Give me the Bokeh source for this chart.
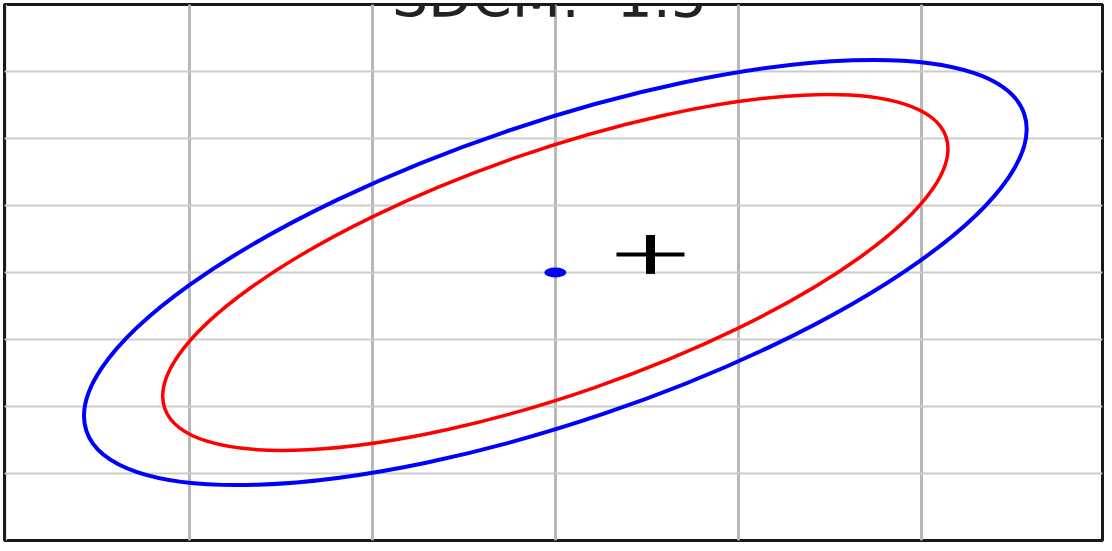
from bokeh.plotting import figure
from bokeh.models import Grid, FixedTicker, Label, Range1d
from bokeh.embed import file_html
from bokeh.resources import INLINE
from math import radians

# ---- data (abstract chromaticity units: 1 unit = one grid step) ----
title_text = "SDCM: \u00a01.5"
x_grid_ticks = [-2, -1, 0, 1, 2]
y_grid_ticks = [-3, -2, -1, 0, 1, 2, 3]

target_x = [0.0]
target_y = [0.0]
target_w = [0.12]
target_h = [0.15]

ellipse_names = ["outer", "inner"]
ellipse_cx = [0.0, 0.0]
ellipse_cy = [0.0, 0.0]
ellipse_w = [5.41, 4.52]
ellipse_h = [4.46, 3.63]
ellipse_angle_deg = [18.7, 19.2]
ellipse_colors = ["#0000ff", "#ff0000"]

measured_x = [0.52]
measured_y = [0.27]

W, H = 1104, 543
p = figure(width=W, height=H, output_backend="svg", toolbar_location=None,
           x_axis_location=None, y_axis_location=None,
           x_range=Range1d(-3.01, 2.99), y_range=Range1d(-4, 4),
           min_border_left=4, min_border_right=2, min_border_top=4, min_border_bottom=3)
p.background_fill_color = "white"
p.border_fill_color = "white"
p.outline_line_color = "#1a1a1a"
p.outline_line_width = 3

gx = Grid(dimension=0, ticker=FixedTicker(ticks=x_grid_ticks),
          grid_line_color="#b8b8b8", grid_line_width=3)
gy = Grid(dimension=1, ticker=FixedTicker(ticks=y_grid_ticks),
          grid_line_color="#cccccc", grid_line_width=2)
p.add_layout(gx)
p.add_layout(gy)

angles = [radians(a) for a in ellipse_angle_deg]
widths = [4, 3.5]
for i in range(len(ellipse_names)):
    p.ellipse(x=[ellipse_cx[i]], y=[ellipse_cy[i]], width=[ellipse_w[i]], height=[ellipse_h[i]],
              angle=[angles[i]], fill_color=None, line_color=ellipse_colors[i],
              line_width=widths[i])

p.ellipse(x=target_x, y=target_y, width=target_w, height=target_h,
          fill_color="#0000ff", line_color=None)

p.rect(x=measured_x, y=measured_y, width=68, height=4, width_units="screen",
       height_units="screen", fill_color="black", line_color=None)
p.rect(x=measured_x, y=measured_y, width=9, height=39, width_units="screen",
       height_units="screen", fill_color="black", line_color=None)

p.add_layout(Label(x=545, y=H + 1, x_units="screen", y_units="screen", text=title_text,
                   text_align="center", text_baseline="alphabetic",
                   text_font="DejaVu Sans", text_font_size="57px", text_color="#222222"))

open("out.html", "w").write(file_html(p, INLINE))
